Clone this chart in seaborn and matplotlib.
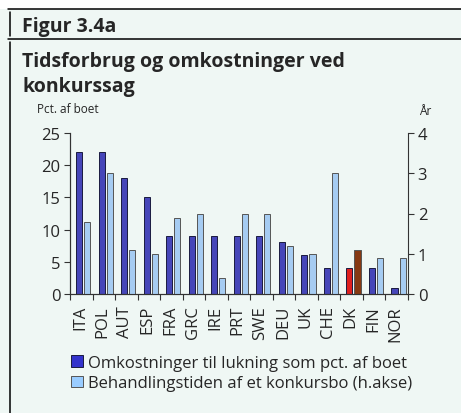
import numpy as np
import matplotlib
matplotlib.use("Agg")
import matplotlib.pyplot as plt
from matplotlib.patches import Patch
from matplotlib.lines import Line2D
import seaborn as sns


# DATA

countries = ["ITA", "POL", "AUT", "ESP", "FRA", "GRC", "IRE", "PRT",
             "SWE", "DEU", "UK", "CHE", "DK", "FIN", "NOR"]

# cost of closing, pct. of estate (left axis)
cost_pct = [22, 22, 18, 15, 9, 9, 9, 9, 9, 8, 6, 4, 4, 4, 1]

# time to resolve a bankruptcy, years (right axis)
time_years = [1.8, 3.0, 1.1, 1.0, 1.9, 2.0, 0.4, 2.0, 2.0, 1.2, 1.0, 3.0, 1.1, 0.9, 0.9]

left_ticks = [0, 5, 10, 15, 20, 25]
right_ticks = [0, 1, 2, 3, 4]

legend_labels = ["Omkostninger til lukning som pct. af boet",
                 "Behandlingstiden af et konkursbo (h.akse)"]


# STYLE

bg = "#eff7f4"
dark_blue = "#3333cc"
light_blue = "#99ccff"
dk_red = "#ff0000"
dk_brown = "#993300"

sns.set_style("ticks")
plt.rcParams["font.family"] = ["Open Sans", "DejaVu Sans"]

fig = plt.figure(figsize=(4.61, 4.14), dpi=100)
fig.patch.set_facecolor("white")

W, H = 461, 414


def fx(px):
    return px / W


def fy(py):
    return 1 - py / H


# mint panel below the top rule
fig.patches.append(plt.Rectangle((0, 0), 1, fy(10), transform=fig.transFigure,
                                 facecolor=bg, edgecolor="none", zorder=-10))

for y in (10, 40):
    fig.lines.append(Line2D([fx(8), 1], [fy(y), fy(y)], transform=fig.transFigure,
                            color="black", lw=1.1))
fig.lines.append(Line2D([fx(9.5), fx(9.5)], [fy(13), fy(37)], transform=fig.transFigure,
                        color="black", lw=1.1))
fig.lines.append(Line2D([fx(9.5), fx(9.5)], [fy(43), 0], transform=fig.transFigure,
                        color="black", lw=1.1))

fig.text(fx(22), fy(31.7), "Figur 3.4a", fontsize=14, fontweight="bold", va="baseline")
fig.text(fx(22), fy(66.7), "Tidsforbrug og omkostninger ved", fontsize=14,
         fontweight="bold", va="baseline")
fig.text(fx(22), fy(91.7), "konkurssag", fontsize=14, fontweight="bold", va="baseline")
fig.text(fx(37), fy(113.3), "Pct. af boet", fontsize=8.5, va="baseline")
fig.text(fx(431), fy(115), "År", fontsize=8.5, va="baseline", ha="right")


# BARS

ax = fig.add_axes([fx(70), fy(295), fx(408) - fx(70), fy(134) - fy(295)])
ax.set_facecolor("none")
ax2 = ax.twinx()

idx = np.arange(len(countries))
cost_colors = {c: (dk_red if c == "DK" else dark_blue) for c in countries}
time_colors = {c: (dk_brown if c == "DK" else light_blue) for c in countries}

sns.barplot(x=idx - 0.1, y=cost_pct, hue=countries, palette=cost_colors,
            native_scale=True, dodge=False, legend=False, width=0.27,
            edgecolor="#1a1a40", linewidth=0.7, ax=ax)
sns.barplot(x=idx + 0.26, y=time_years, hue=countries, palette=time_colors,
            native_scale=True, dodge=False, legend=False, width=0.27,
            edgecolor="#555555", linewidth=0.7, ax=ax2)

ax.set_xlim(-0.5, len(countries) - 0.5)
ax.set_ylim(0, 25)
ax2.set_ylim(0, 4)
ax.set_yticks(left_ticks)
ax2.set_yticks(right_ticks)

ax.set_xticks(np.arange(len(countries) + 1) - 0.5)
ax.set_xticklabels([])
ax.set_xticks(idx - 0.05, minor=True)
ax.set_xticklabels(countries, minor=True, rotation=90, fontsize=12)
ax.tick_params(axis="x", which="minor", length=0, pad=8)
ax.tick_params(axis="x", which="major", length=4, width=0.8, color="#333333")
ax.tick_params(axis="y", length=4, width=0.8, color="#333333", labelsize=12, pad=3)
ax2.tick_params(axis="y", length=4, width=0.8, color="#333333", labelsize=12, pad=3)

ax.set_xlabel("")
ax.set_ylabel("")
ax2.set_ylabel("")

for a in (ax, ax2):
    a.spines["top"].set_visible(False)
    for s in ("left", "right", "bottom"):
        a.spines[s].set_color("#333333")
        a.spines[s].set_linewidth(0.8)
ax.spines["right"].set_visible(False)


# LEGEND

handles = [Patch(facecolor=dark_blue, edgecolor="#1a1a40", linewidth=0.7),
           Patch(facecolor=light_blue, edgecolor="#555555", linewidth=0.7)]
fig.legend(handles, legend_labels, loc="upper left",
           bbox_to_anchor=(fx(71), fy(356)), frameon=False, fontsize=12,
           handlelength=0.7, handleheight=0.7, handletextpad=0.3,
           labelspacing=0.25, borderpad=0, borderaxespad=0)

fig.savefig("out.png", dpi=100, facecolor=fig.get_facecolor())
